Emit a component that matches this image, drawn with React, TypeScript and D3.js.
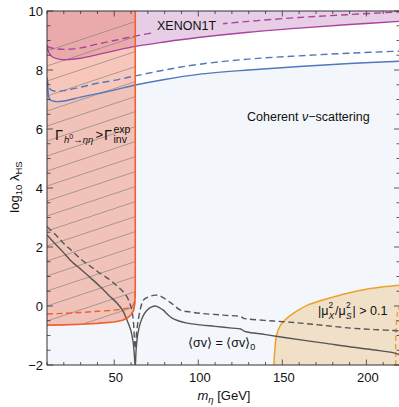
import React from "react";
import * as d3 from "d3";

type P = [number, number];

const xTicksMajor = [50, 100, 150, 200];
const yTicksMajor = [-2, 0, 2, 4, 6, 8, 10];

const purpleSolid: P[] = [[10, 8.85], [11, 8.6], [13, 8.45], [17, 8.37], [22, 8.35], [30, 8.4], [40, 8.52], [50, 8.65], [62.5, 8.8], [80, 8.95], [100, 9.1], [130, 9.28], [160, 9.42], [190, 9.54], [220, 9.65]];
const purpleDashed: P[] = [[10, 8.8], [15, 8.72], [22, 8.7], [30, 8.75], [40, 8.88], [50, 9.0], [62.5, 9.15], [80, 9.33], [100, 9.48], [130, 9.65], [160, 9.78], [190, 9.88], [220, 9.97]];
const blueSolid: P[] = [[10, 7.7], [10.5, 7.4], [11, 7.1], [12, 6.98], [15, 6.93], [20, 6.95], [30, 7.08], [40, 7.2], [50, 7.32], [62.5, 7.49], [80, 7.68], [100, 7.85], [130, 8.0], [160, 8.12], [190, 8.22], [220, 8.3]];
const blueDashed: P[] = [[10, 7.75], [10.7, 7.5], [12, 7.35], [15, 7.28], [20, 7.3], [30, 7.42], [40, 7.55], [50, 7.65], [62.5, 7.8], [80, 8.0], [100, 8.19], [130, 8.37], [160, 8.48], [190, 8.57], [220, 8.64]];
const redSolid: P[] = [[10, -0.65], [20, -0.64], [30, -0.62], [40, -0.59], [50, -0.54], [55, -0.48], [58, -0.4], [60, -0.3], [61.5, -0.15], [62.3, 0.1], [62.5, 0.5], [62.5, 10]];
const redDashed: P[] = [[10, -0.27], [20, -0.25], [30, -0.22], [40, -0.18], [50, -0.14], [55, -0.1], [58, -0.07], [60, -0.03], [61.5, 0.05], [62.3, 0.3], [62.5, 0.6]];
const graySolid: P[] = [[10, 2.41], [15, 2.1], [20, 1.8], [23.7, 1.56], [30, 1.25], [35, 1.0], [41.6, 0.66], [47, 0.35], [51.6, 0.1], [55, -0.15], [58.3, -0.58], [60, -0.85], [61.3, -1.25], [62, -1.7], [62.5, -2.05], [63, -1.5], [64, -0.95], [65.5, -0.58], [67.5, -0.3], [69.5, -0.14], [72, -0.04], [74.4, 0.0], [77, -0.06], [79.2, -0.14], [82, -0.3], [84.4, -0.41], [88, -0.5], [93.4, -0.58], [101.3, -0.64], [110, -0.69], [120, -0.75], [125.2, -0.78], [127, -0.84], [129, -0.88], [140, -0.97], [161, -1.15], [175, -1.26], [190.8, -1.39], [205, -1.49], [216.4, -1.59], [220, -1.66]];
const grayDashed: P[] = [[10, 2.69], [15, 2.42], [20, 2.12], [25, 1.86], [30.7, 1.56], [35, 1.38], [40, 1.17], [47.6, 0.88], [52, 0.66], [55, 0.5], [57.6, 0.31], [59.5, 0.05], [60.5, -0.14], [61.5, -0.6], [62.2, -1.3], [62.6, -1.45], [63.3, -0.9], [64.5, -0.4], [66, 0.0], [67.3, 0.2], [70, 0.3], [74.4, 0.37], [78, 0.32], [81.4, 0.2], [85, 0.05], [89.4, -0.14], [95, -0.2], [101.3, -0.25], [115, -0.31], [125.2, -0.36], [127, -0.42], [129.2, -0.44], [145, -0.51], [161, -0.58], [175, -0.66], [190.8, -0.75], [205, -0.8], [220, -0.84]];
const yellowSolid: P[] = [[145, -2], [145.5, -1.5], [146.6, -0.98], [149, -0.64], [152, -0.45], [155, -0.31], [160, -0.12], [165, 0.03], [172, 0.17], [180.6, 0.31], [190, 0.45], [200.7, 0.58], [210, 0.65], [220, 0.71]];
const yellowDashed: P[] = [[217.5, -2], [217.5, -1.0], [218, -0.5], [218.6, -0.2], [220, 0.05]];

const L = 47, R = 400, T = 11, B = 365;

export default function App() {
  const x = d3.scaleLinear().domain([10, 220]).range([L, R]);
  const y = d3.scaleLinear().domain([-2, 10]).range([B, T]);
  const line = d3.line<P>().x(d => x(d[0])).y(d => y(d[1])).curve(d3.curveCatmullRom.alpha(0.5));
  const lin = d3.line<P>().x(d => x(d[0])).y(d => y(d[1]));

  const coherentPath = line(blueSolid) + `L${x(220)},${y(-2)}L${x(10)},${y(-2)}Z`;
  const purplePath = line(purpleSolid) + `L${x(220)},${y(10)}L${x(10)},${y(10)}Z`;
  const redPath = lin(redSolid) + `L${x(10)},${y(10)}Z`;
  const yellowPath = line(yellowSolid) + `L${x(220)},${y(-2)}Z`;

  const xMinor = d3.range(10, 221, 10);
  const yMinor = d3.range(-2, 10.01, 0.5);

  const hatch: number[] = d3.range(-8, 30).map(i => 171 + i * 15);
  const slope = 0.333;

  const font = "Liberation Sans, Arial, Helvetica, sans-serif";

  return (
    <svg width={399} height={407} style={{ position: "absolute", left: 0, top: 0, background: "#fff" }} fontFamily={font}>
      <defs>
        <clipPath id="plot"><rect x={L} y={T} width={R - L} height={B - T} /></clipPath>
        <clipPath id="redclip"><path d={redPath} /></clipPath>
      </defs>
      <g clipPath="url(#plot)">
        <path d={coherentPath} fill="#f3f6fa" />
        <path d={purplePath} fill="#b05aa8" fillOpacity={0.3} />
        <path d={yellowPath} fill="#e8a030" fillOpacity={0.25} />
        <path d={redPath} fill="#ee7a5c" fillOpacity={0.42} />
        <g clipPath="url(#redclip)">
          {hatch.map((c, i) => (
            <line key={i} x1={L} y1={c} x2={R} y2={c - slope * (R - L)} stroke="#7a7a7a" strokeWidth={0.7} strokeOpacity={0.85} />
          ))}
        </g>
        <path d={line(purpleSolid)!} fill="none" stroke="#a8449a" strokeWidth={1.4} />
        <path d={line(purpleDashed)!} fill="none" stroke="#a8449a" strokeWidth={1.4} strokeDasharray="7,4" />
        <path d={line(blueSolid)!} fill="none" stroke="#5078bd" strokeWidth={1.4} />
        <path d={line(blueDashed)!} fill="none" stroke="#5078bd" strokeWidth={1.4} strokeDasharray="7,4" />
        <path d={line(yellowSolid)!} fill="none" stroke="#eba22d" strokeWidth={1.5} />
        <path d={line(yellowDashed)!} fill="none" stroke="#eba22d" strokeWidth={1.4} strokeDasharray="5,3" />
        <path d={line(grayDashed)!} fill="none" stroke="#555" strokeWidth={1.4} strokeDasharray="6,3.5" />
        <path d={line(graySolid)!} fill="none" stroke="#555" strokeWidth={1.4} />
        <path d={lin(redSolid)!} fill="none" stroke="#f0602e" strokeWidth={1.6} />
        <path d={line(redDashed)!} fill="none" stroke="#f0602e" strokeWidth={1.4} strokeDasharray="6,3.5" />
        <rect x={151} y={17} width={72} height={16} fill="#e7cee5" />
      </g>
      {/* frame */}
      <rect x={L} y={T} width={R - L} height={B - T} fill="none" stroke="#333" strokeWidth={1} />
      {/* ticks */}
      <g stroke="#333" strokeWidth={0.8}>
        {xMinor.map(v => {
          const major = v % 50 === 0;
          const len = major ? 5.5 : 3;
          return (
            <g key={"x" + v}>
              <line x1={x(v)} x2={x(v)} y1={B} y2={B - len} />
              <line x1={x(v)} x2={x(v)} y1={T} y2={T + len} />
            </g>
          );
        })}
        {yMinor.map(v => {
          const major = Math.abs(v % 2) < 1e-6;
          const len = major ? 6 : 3.5;
          return (
            <g key={"y" + v}>
              <line x1={L} x2={L + len} y1={y(v)} y2={y(v)} />
              <line x1={R} x2={R - len} y1={y(v)} y2={y(v)} />
            </g>
          );
        })}
      </g>
      {/* tick labels */}
      <g fontSize={13} fill="#111">
        {xTicksMajor.map(v => (
          <text key={v} x={x(v) + 1.5} y={382} textAnchor="middle">{v}</text>
        ))}
        {yTicksMajor.map(v => (
          <text key={v} x={43} y={y(v) + 4.5} textAnchor="end">{v < 0 ? "−" + Math.abs(v) : v}</text>
        ))}
      </g>
      {/* axis titles */}
      <text x={224} y={400} textAnchor="middle" fontSize={13} fill="#111">
        <tspan fontStyle="italic">m</tspan>
        <tspan fontStyle="italic" fontSize={9.5} dy={3}>η</tspan>
        <tspan dy={-3}> [GeV]</tspan>
      </text>
      <text transform="translate(19,187) rotate(-90)" textAnchor="middle" fontSize={13} fill="#111">
        <tspan>log</tspan>
        <tspan fontSize={9.5} dy={3}>10</tspan>
        <tspan dy={-3}> λ</tspan>
        <tspan fontSize={9.5} dy={3}>HS</tspan>
      </text>
      {/* region labels */}
      <text x={157} y={30} fontSize={12.5} fill="#111">XENON1T</text>
      <text x={247} y={121} fontSize={12.5} fill="#111">
        Coherent <tspan fontStyle="italic">ν</tspan>−scattering
      </text>
      <g fill="#111">
        <text x={55} y={139.5} fontSize={14.5}>Γ</text>
        <text x={64} y={143} fontSize={9.5}>
          <tspan fontStyle="italic">h</tspan>
          <tspan fontSize={7} dy={-4}>0</tspan>
          <tspan dy={4}>→</tspan>
          <tspan fontStyle="italic">ηη</tspan>
        </text>
        <text x={95.5} y={139} fontSize={13}>&gt;</text>
        <text x={104} y={139.5} fontSize={14.5}>Γ</text>
        <text x={113.5} y={132.5} fontSize={10.5}>exp</text>
        <text x={113.5} y={143} fontSize={10.5}>inv</text>
      </g>
      <g fill="#111" fontSize={12.5}>
        <text x={318} y={315}>|μ</text>
        <text x={328.5} y={308} fontSize={8.5}>2</text>
        <text x={328.5} y={318.5} fontSize={8.5} fontStyle="italic">X</text>
        <text x={335} y={315}>/μ</text>
        <text x={346} y={308} fontSize={8.5}>2</text>
        <text x={346} y={318.5} fontSize={8.5} fontStyle="italic">S</text>
        <text x={352.5} y={315}>| &gt; 0.1</text>
      </g>
      <text x={188} y={347} fontSize={12.5} fill="#111">
        ⟨σv⟩ = ⟨σv⟩<tspan fontSize={9} dy={3}>0</tspan>
      </text>
    </svg>
  );
}
